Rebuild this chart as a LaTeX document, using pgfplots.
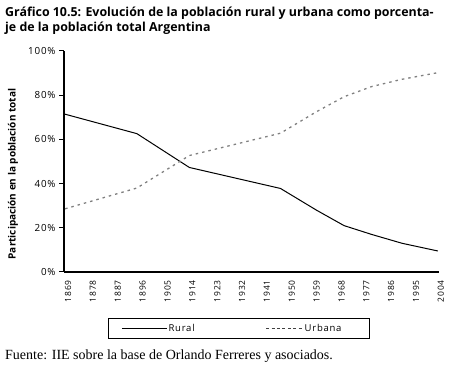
\documentclass[border=0pt]{standalone}
\usepackage{fontspec}
\setmainfont{Open Sans}
\newfontfamily\lsfont{Open Sans}[LetterSpace=8]
\newfontfamily\srcfont{Liberation Serif}
\usepackage{pgfplots}
\pgfplotsset{compat=1.18}
\begin{document}
\begin{tikzpicture}[x=1pt,y=1pt]
\useasboundingbox (0,0) rectangle (450,-371);
\begin{axis}[
  at={(64pt,-272pt)}, anchor=south west,
  scale only axis, width=375pt, height=221pt,
  xmin=1868.6, xmax=2004.4, ymin=0, ymax=100,
  axis lines=left, axis line style={line width=1.4pt, -},
  /pgf/number format/assume math mode=true,
  xtick={1869,1878,...,2004},
  xticklabel style={rotate=90, anchor=east, font=\lsfont\fontsize{8.5}{9}\selectfont, /pgf/number format/1000 sep={}, yshift=-3pt},
  major x tick style={draw=none},
  ytick={0,20,...,100},
  yticklabel={\pgfmathprintnumber{\tick}\%},
  yticklabel style={font=\lsfont\fontsize{9.8}{10}\selectfont},
  tick align=outside, major tick length=5pt,
  major y tick style={line width=1pt, black},
  legend columns=2,
  legend style={at={(rel axis cs:0.117,-0.208)}, anchor=north west, draw=black, line width=1.2pt,
    font=\lsfont\fontsize{9.5}{10}\selectfont, inner xsep=12.5pt, inner ysep=4.5pt,
    nodes={inner sep=1pt},
    /tikz/every even column/.append style={column sep=70pt}},
]
\addplot[black, line width=1pt, legend image code/.code={\draw[black, line width=1.6pt] (0pt,0pt) -- (45pt,0pt);}] coordinates {
 (1869,71.4) (1895,62.6) (1914,47.3) (1947,37.8) (1960,28.0) (1970,21.0) (1980,17.0) (1991,13.0) (2004,9.5)};
\addlegendentry{Rural}
\addplot[gray, line width=1.3pt, dash pattern=on 2.5pt off 4pt, legend image code/.code={\draw[black!75, line width=1pt, dash pattern=on 3pt off 2.4pt] (0pt,0pt) -- (37pt,0pt);}] coordinates {
 (1869,28.6) (1895,38.0) (1914,52.7) (1947,62.8) (1960,72.5) (1970,79.3) (1980,83.9) (1991,87.2) (2004,90.2)};
\addlegendentry{\makebox[51pt][l]{Urbana}}
\end{axis}
\node[anchor=base west, font=\bfseries\fontsize{12.4}{14}\selectfont, inner sep=0pt] at (5,-16.5) {Gráfico 10.5: Evolución de la población rural y urbana como porcenta-};
\node[anchor=base west, font=\bfseries\fontsize{12.4}{14}\selectfont, inner sep=0pt] at (5,-32) {je de la población total Argentina};
\node[rotate=90, font=\bfseries\fontsize{10}{11}\selectfont, inner sep=0pt] at (13,-174) {Participación en la población total};
\node[anchor=base west, font=\srcfont\fontsize{14}{16}\selectfont, inner sep=0pt] at (5,-360) {Fuente: IIE sobre la base de Orlando Ferreres y asociados.};
\end{tikzpicture}
\end{document}
